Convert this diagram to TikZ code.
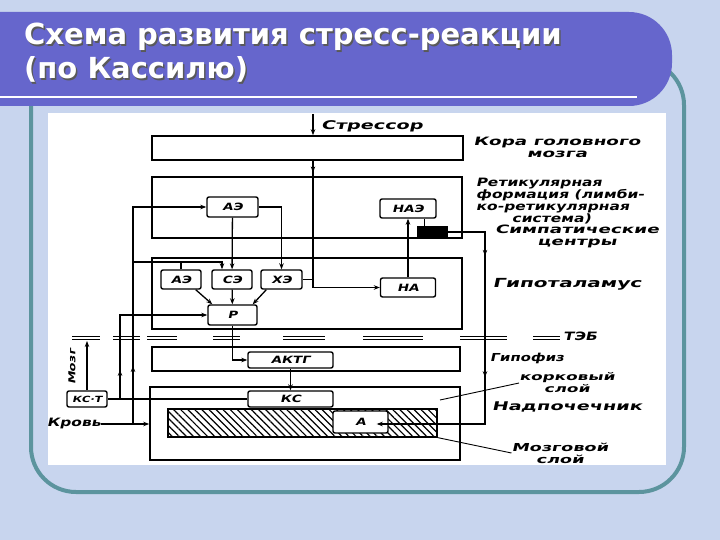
\documentclass[tikz,border=0pt]{standalone}
\usepackage{fontspec}
\setmainfont{DejaVu Sans}
\newfontfamily\scanfont{DejaVu Sans}[FakeSlant=0.22,FakeStretch=1.35]
\newfontfamily\scanwide{DejaVu Sans}[FakeSlant=0.22,FakeStretch=1.6]
\usetikzlibrary{arrows.meta, positioning, calc, patterns.meta, decorations.markings}
\definecolor{slidebg}{RGB}{200,213,238}
\definecolor{barblue}{RGB}{102,102,204}
\definecolor{frameteal}{RGB}{92,148,158}
\newcommand\shadowed[1]{\rlap{\kern1.5pt\raisebox{-1.5pt}{\textcolor{black!65}{#1}}}#1}
\tikzset{
  titletext/.style={font=\fontsize{29}{34}\selectfont\bfseries, text=white, inner sep=0pt, anchor=base west},
  layer/.style={rectangle, draw=black, line width=1.6pt, inner sep=0pt},
  hatched/.style={layer, line width=1.4pt, pattern={Lines[angle=-45, distance=5pt, line width=1.2pt]}},
  box/.style={rectangle, draw=black, line width=1.4pt, rounded corners=2pt, inner sep=0pt,
    fill=white, font=\scanfont\bfseries\fontsize{10}{12}\selectfont},
  symp/.style={rectangle, fill=black, inner sep=0pt, minimum width=31, minimum height=12},
  side/.style={font=\scanfont\bfseries\fontsize{11.5}{12}\selectfont, align=center, inner sep=0pt},
  wide/.style={side, font=\scanwide\bfseries\fontsize{#1}{12}\selectfont},
  arr/.style={-{Stealth[length=6pt, width=4.5pt]}, line width=1.3pt},
  ln/.style={line width=1.3pt},
  midarr/.style={postaction={decorate, decoration={markings,
    mark=at position #1 with {\arrow{Stealth[length=6pt, width=4.5pt]}}}}},
  teb/.style={double=white, double distance=2.5pt, line width=1.2pt},
}

\begin{document}
\begin{tikzpicture}[x=1pt, y=-1pt]
  \useasboundingbox (0,0) rectangle (720,540);
  \fill[slidebg] (0,0) rectangle (720,540);
  \draw[frameteal, line width=4pt, rounded corners=45pt] (31,60) rectangle (684,492);
  \fill[barblue, rounded corners=43pt] (-60,12) rectangle (672,106);
  \draw[white, line width=2.5pt] (0,97) -- (637,97);
  \node[titletext] (title1) at (24,45) {\shadowed{Схема развития стресс-реакции}};
  \node[titletext] (title2) at (24,79) {\shadowed{(по Кассилю)}};
  \fill[white] (48,113) rectangle (666,465);

  % levels
  \node[layer, minimum width=311, minimum height=24] (cortex) at (307.5,148) {};
  \node[layer, minimum width=310, minimum height=61] (retic) at (307,207.5) {};
  \node[layer, minimum width=310, minimum height=71] (hypoth) at (307,293.5) {};
  \node[layer, minimum width=308, minimum height=24] (pituit) at (306,359) {};
  \node[layer, minimum width=310, minimum height=73] (adrenal) at (305,423.5) {};
  \node[hatched, minimum width=269, minimum height=28] (cortl) at (302.5,423) {};
  \node[box, minimum width=55, minimum height=22] (medA) at (360.5,422) {А};

  % blocks
  \node[box, minimum width=51, minimum height=20] (ae1) at (232.5,207) {АЭ};
  \node[box, minimum width=56, minimum height=19] (nae) at (408,208.5) {НАЭ};
  \node[symp] (sympc) at (432.5,232) {};
  \node[box, minimum width=40, minimum height=19] (ae2) at (181,279.5) {АЭ};
  \node[box, minimum width=40, minimum height=19] (se) at (232,279.5) {СЭ};
  \node[box, minimum width=41, minimum height=19] (he) at (281.5,279.5) {ХЭ};
  \node[box, minimum width=49, minimum height=20] (rr) at (232.5,315) {Р};
  \node[box, minimum width=55, minimum height=19] (na) at (408,287.5) {НА};
  \node[box, minimum width=85, minimum height=16] (actg) at (290.5,360) {АКТГ};
  \node[box, minimum width=85, minimum height=16] (ks) at (290.5,399) {КС};
  \node[box, minimum width=40, minimum height=16, font=\scanfont\bfseries\fontsize{8.5}{10}\selectfont] (kst) at (87,399) {КС·Т};

  % labels
  \node[wide=12] (stresslbl) at (372,126) {Стрессор};
  \node[wide=11.5] (cortexlbl) at (557,147) {Кора головного\\мозга};
  \node[side, align=left] (reticlbl) at (560,201) {Ретикулярная\\формация (лимби-\\ко-ретикулярная\\\hspace*{36pt}система)};
  \node[wide=11.5] (symplbl) at (577,236.5) {Симпатические\\центры};
  \node[wide=12.5] (hypolbl) at (567,284) {Гипоталамус};
  \node[side, font=\scanfont\bfseries\fontsize{11}{12}\selectfont] (pitlbl) at (527,358) {Гипофиз};
  \node[wide=10.5] (kortlbl) at (567,383) {корковый\\слой};
  \node[wide=12] (adrlbl) at (567,407) {Надпочечник};
  \node[wide=11] (medlbl) at (560,453) {Мозговой\\слой};
  \node[side] (blood) at (74,424) {Кровь};
  \node[side, font=\scanfont\bfseries\fontsize{9.5}{11}\selectfont, rotate=90] (brainlbl) at (72,367) {Мозг};

  \coordinate (stress) at (313,114);
  \coordinate (bj) at (133,424);
  \coordinate (sj) at (133,262);
  \coordinate (kj) at (120,399);
  \coordinate (brain) at (88,341);
  \coordinate (sd) at (485,424);
  \coordinate (kortpt) at (440,400);

  % barrier
  \foreach \a/\b in {72/100, 113/140, 147/177, 213/240, 283/325, 363/423, 460/507, 533/560}
    \draw[teb] (\a,338) -- (\b,338);
  \node[side, anchor=west] (teblbl) at (563,336) {ТЭБ};

  \draw[arr] (stress) -- (stress |- cortex.north);
  \draw[arr, midarr=0.06] (stress |- cortex.south) |- (na.west);
  \draw[ln] (he.east) -- (he.east -| stress);
  \draw[arr] (ae1) -- (se);
  \draw[arr] (ae1.east) -| (he.north);
  \draw[arr] (blood.east) -- (blood.east -| adrenal.west);
  \draw[arr, midarr=0.2] (bj) |- (ae1.west);
  \draw[arr] (sj) -| ([xshift=-10pt]se.north);
  \draw[ln] (ae2.north) -- (ae2.north |- sj);
  \draw[ln] (ks.west) -- (kst.east);
  \draw[arr, midarr=0.17] (kj) |- (rr.west);
  \draw[arr] (kst.north) -- (kst.north |- brain);
  \draw[arr] ([xshift=-6pt]ae2.south east) -- ([xshift=5pt]rr.north west);
  \draw[arr] (se) -- (rr);
  \draw[arr] ([xshift=6pt]he.south west) -- ([xshift=-5pt]rr.north east);
  \draw[arr] (rr.south) |- (actg.west);
  \draw[arr] (actg) -- (ks);
  \draw[arr] (na) -- (nae);
  \draw[ln] ([xshift=-8pt]sympc.north) -- ([xshift=-8pt]sympc.north |- nae.south);
  \draw[arr, midarr=0.18, midarr=0.54] (sympc.east) -| (sd) -- ($(medA.east |- sd)+(-12,0)$);
  \draw[ln, line width=0.9pt] (kortlbl.west) -- (kortpt);
  \draw[ln, line width=0.9pt] (medlbl.west) -- (cortl.south east);
\end{tikzpicture}
\end{document}
